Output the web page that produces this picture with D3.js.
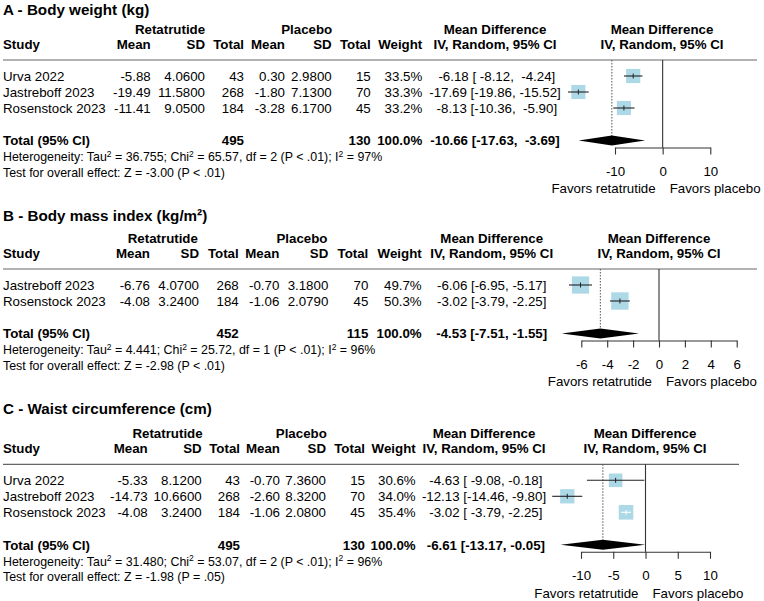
<!DOCTYPE html>
<html><head><meta charset="utf-8">
<script src="https://cdn.jsdelivr.net/npm/d3@7"></script>
<style>
html,body{margin:0;padding:0;background:#fff;}
text{font-family:"Liberation Sans",Arial,sans-serif;fill:#000;white-space:pre;}
</style></head>
<body>
<svg id="chart" width="764" height="601"></svg>
<script>
// ---------- Panel A: Body weight ----------
const titleA = "A - Body weight (kg)";
const studiesA = ["Urva 2022", "Jastreboff 2023", "Rosenstock 2023"];
const retaMeanA = [-5.88, -19.49, -11.41];
const retaSdA = [4.06, 11.58, 9.05];
const retaNA = [43, 268, 184];
const placMeanA = [0.30, -1.80, -3.28];
const placSdA = [2.98, 7.13, 6.17];
const placNA = [15, 70, 45];
const weightA = [33.5, 33.3, 33.2];
const mdA = [-6.18, -17.69, -8.13];
const loA = [-8.12, -19.86, -10.36];
const hiA = [-4.24, -15.52, -5.90];
const pooledA = [-10.66, -17.63, -3.69];
const totalNA = [495, 130];
const hetA = ["36.755", "65.57", "2", "P < .01", "97%"];
const testA = ["-3.00", "P < .01"];
const ticksA = [-10, 0, 10];

// ---------- Panel B: Body mass index ----------
const titleB = "B - Body mass index (kg/m²)";
const studiesB = ["Jastreboff 2023", "Rosenstock 2023"];
const retaMeanB = [-6.76, -4.08];
const retaSdB = [4.07, 3.24];
const retaNB = [268, 184];
const placMeanB = [-0.70, -1.06];
const placSdB = [3.18, 2.079];
const placNB = [70, 45];
const weightB = [49.7, 50.3];
const mdB = [-6.06, -3.02];
const loB = [-6.95, -3.79];
const hiB = [-5.17, -2.25];
const pooledB = [-4.53, -7.51, -1.55];
const totalNB = [452, 115];
const hetB = ["4.441", "25.72", "1", "P < .01", "96%"];
const testB = ["-2.98", "P < .01"];
const ticksB = [-6, -4, -2, 0, 2, 4, 6];

// ---------- Panel C: Waist circumference ----------
const titleC = "C - Waist circumference (cm)";
const studiesC = ["Urva 2022", "Jastreboff 2023", "Rosenstock 2023"];
const retaMeanC = [-5.33, -14.73, -4.08];
const retaSdC = [8.12, 10.66, 3.24];
const retaNC = [43, 268, 184];
const placMeanC = [-0.70, -2.60, -1.06];
const placSdC = [7.36, 8.32, 2.08];
const placNC = [15, 70, 45];
const weightC = [30.6, 34.0, 35.4];
const mdC = [-4.63, -12.13, -3.02];
const loC = [-9.08, -14.46, -3.79];
const hiC = [-0.18, -9.80, -2.25];
const pooledC = [-6.61, -13.17, -0.05];
const totalNC = [495, 130];
const hetC = ["31.480", "53.07", "2", "P < .01", "96%"];
const testC = ["-1.98", "P = .05"];
const ticksC = [-10, -5, 0, 5, 10];

const labelLeft = "Favors retatrutide";
const labelRight = "Favors placebo";

// ---------- layout (positions only) ----------
const layouts = [
  {titleY: 10, lineY: 60, lineEnd: 757, cols: [150.7, 205, 244, 285, 331.7, 370.7, 422.3], mdX: 495, plotHX: 662, retaHX: 170, placHX: 306.7, range: [615, 710.3]},
  {titleY: 215.5, lineY: 269, lineEnd: 757, cols: [150, 199, 238.7, 279.3, 328.3, 368.3, 421.7], mdX: 491.7, plotHX: 659, retaHX: 162.8, placHX: 302, range: [581.3, 736.7]},
  {titleY: 408.5, lineY: 464.3, lineEnd: 739, cols: [147.7, 201.7, 240, 280, 326, 365, 415.7], mdX: 484, plotHX: 645, retaHX: 167.5, placHX: 301.3, range: [581, 710]}
];

const panels = [
  {title: titleA, studies: studiesA, rm: retaMeanA, rs: retaSdA, rn: retaNA, pm: placMeanA, ps: placSdA, pn: placNA, w: weightA, md: mdA, lo: loA, hi: hiA, pooled: pooledA, totalN: totalNA, het: hetA, test: testA, ticks: ticksA},
  {title: titleB, studies: studiesB, rm: retaMeanB, rs: retaSdB, rn: retaNB, pm: placMeanB, ps: placSdB, pn: placNB, w: weightB, md: mdB, lo: loB, hi: hiB, pooled: pooledB, totalN: totalNB, het: hetB, test: testB, ticks: ticksB},
  {title: titleC, studies: studiesC, rm: retaMeanC, rs: retaSdC, rn: retaNC, pm: placMeanC, ps: placSdC, pn: placNC, w: weightC, md: mdC, lo: loC, hi: hiC, pooled: pooledC, totalN: totalNC, het: hetC, test: testC, ticks: ticksC}
];

const svg = d3.select("#chart");
const FS = 13.3, FS_SMALL = 12.4;

function txt(g, x, y, s, opts = {}) {
  return g.append("text").attr("x", x).attr("y", y).attr("dy", "0.36em")
    .attr("font-size", opts.size || FS)
    .attr("font-weight", opts.bold ? "bold" : null)
    .attr("text-anchor", opts.anchor || "start")
    .text(s);
}

function supLine(g, x, y, parts) {
  const t = g.append("text").attr("x", x).attr("y", y + 0.36 * FS_SMALL).attr("font-size", FS_SMALL);
  let shifted = false;
  parts.forEach(([s, sup]) => {
    const sp = t.append("tspan").text(s);
    if (sup) { sp.attr("dy", -4.5).attr("font-size", 8.5); shifted = true; }
    else if (shifted) { sp.attr("dy", 4.5); shifted = false; }
  });
}

panels.forEach((p, i) => {
  const L = layouts[i];
  const g = svg.append("g");
  const k = p.studies.length;
  const rowY = d3.range(k).map(j => L.lineY + 16 * (j + 1));
  const totalY = rowY[k - 1] + 32.5;
  const axisY = totalY + 7;
  const c = L.cols;

  txt(g, 3, L.titleY, p.title, {size: 15.2, bold: true});

  const h1 = L.lineY - 31, h2 = L.lineY - 15.7;
  txt(g, L.retaHX, h1, "Retatrutide", {bold: true, anchor: "middle"});
  txt(g, L.placHX, h1, "Placebo", {bold: true, anchor: "middle"});
  txt(g, L.mdX, h1, "Mean Difference", {bold: true, anchor: "middle"});
  txt(g, L.plotHX, h1, "Mean Difference", {bold: true, anchor: "middle"});
  txt(g, 3, h2, "Study", {bold: true});
  ["Mean", "SD", "Total", "Mean", "SD", "Total", "Weight"].forEach((h, j) =>
    txt(g, c[j], h2, h, {bold: true, anchor: "end"}));
  txt(g, L.mdX, h2, "IV, Random, 95% CI", {bold: true, anchor: "middle"});
  txt(g, L.plotHX, h2, "IV, Random, 95% CI", {bold: true, anchor: "middle"});

  g.append("line").attr("x1", 3).attr("x2", L.lineEnd).attr("y1", L.lineY).attr("y2", L.lineY)
    .attr("stroke", "#666").attr("stroke-width", 1.2);

  const allE = p.md.concat([p.pooled[0]]).map(v => v.toFixed(2));
  const allL = p.lo.concat([p.pooled[1]]).map(v => v.toFixed(2));
  const allH = p.hi.concat([p.pooled[2]]).map(v => v.toFixed(2));
  const we = d3.max(allE, s => s.length), wl = d3.max(allL, s => s.length), wh = d3.max(allH, s => s.length);
  const ciStr = j => allE[j].padStart(we) + " [" + allL[j].padStart(wl) + ", " + allH[j].padStart(wh) + "]";

  p.studies.forEach((s, j) => {
    const y = rowY[j];
    txt(g, 3, y, s);
    const vals = [p.rm[j].toFixed(2), p.rs[j].toFixed(4), String(p.rn[j]),
                  p.pm[j].toFixed(2), p.ps[j].toFixed(4), String(p.pn[j]), p.w[j].toFixed(1) + "%"];
    vals.forEach((v, m) => txt(g, c[m], y, v, {anchor: "end"}));
    txt(g, L.mdX, y, ciStr(j), {anchor: "middle"});
  });

  txt(g, 3, totalY, "Total (95% CI)", {bold: true});
  txt(g, c[2], totalY, String(p.totalN[0]), {bold: true, anchor: "end"});
  txt(g, c[5], totalY, String(p.totalN[1]), {bold: true, anchor: "end"});
  txt(g, c[6], totalY, "100.0%", {bold: true, anchor: "end"});
  txt(g, L.mdX, totalY, ciStr(k), {bold: true, anchor: "middle"});

  supLine(g, 3, totalY + 16.3, [["Heterogeneity: Tau", false], ["2", true], [" = " + p.het[0] + "; Chi", false], ["2", true],
    [" = " + p.het[1] + ", df = " + p.het[2] + " (" + p.het[3] + "); I", false], ["2", true], [" = " + p.het[4], false]]);
  supLine(g, 3, totalY + 32, [["Test for overall effect: Z = " + p.test[0] + " (" + p.test[1] + ")", false]]);

  const x = d3.scaleLinear().domain(d3.extent(p.ticks)).range(L.range);
  g.append("line").attr("x1", x(p.pooled[0])).attr("x2", x(p.pooled[0]))
    .attr("y1", L.lineY).attr("y2", totalY)
    .attr("stroke", "#555").attr("stroke-width", 1).attr("stroke-dasharray", "1.5,1.5");
  g.append("line").attr("x1", x(0)).attr("x2", x(0)).attr("y1", L.lineY).attr("y2", axisY)
    .attr("stroke", "#333").attr("stroke-width", 1.1);

  p.studies.forEach((s, j) => {
    const y = rowY[j];
    const side = 2.45 * Math.sqrt(p.w[j]);
    g.append("rect").attr("x", x(p.md[j]) - side / 2).attr("y", y - side / 2)
      .attr("width", side).attr("height", side).attr("fill", "#add8e6");
    const inside = (x(p.hi[j]) - x(p.lo[j])) < side;
    const col = inside ? "#fff" : "#222";
    g.append("line").attr("x1", x(p.lo[j])).attr("x2", x(p.hi[j])).attr("y1", y).attr("y2", y)
      .attr("stroke", col).attr("stroke-width", 1.1);
    g.append("line").attr("x1", x(p.md[j])).attr("x2", x(p.md[j])).attr("y1", y - 2.5).attr("y2", y + 2.5)
      .attr("stroke", col).attr("stroke-width", 1);
  });

  const dh = 5;
  g.append("polygon").attr("points", [
    [x(p.pooled[1]), totalY], [x(p.pooled[0]), totalY - dh], [x(p.pooled[2]), totalY], [x(p.pooled[0]), totalY + dh]
  ].map(d => d.join(",")).join(" ")).attr("fill", "#000");

  const ax = g.append("g").attr("transform", `translate(0,${axisY})`)
    .call(d3.axisBottom(x).tickValues(p.ticks).tickSize(7).tickSizeOuter(0).tickPadding(12).tickFormat(d3.format("d")));
  ax.selectAll("path,line").attr("stroke", "#333").attr("stroke-width", 1.1);
  ax.selectAll("text").attr("font-size", FS).attr("font-family", "Liberation Sans, Arial, sans-serif").attr("fill", "#000")
    .text(d => d < 0 ? "-" + Math.abs(d) : String(d));

  txt(g, x(0) - 7, axisY + 41, labelLeft, {anchor: "end"});
  txt(g, x(0) + 7, axisY + 41, labelRight, {anchor: "start"});
});
</script>
</body></html>
